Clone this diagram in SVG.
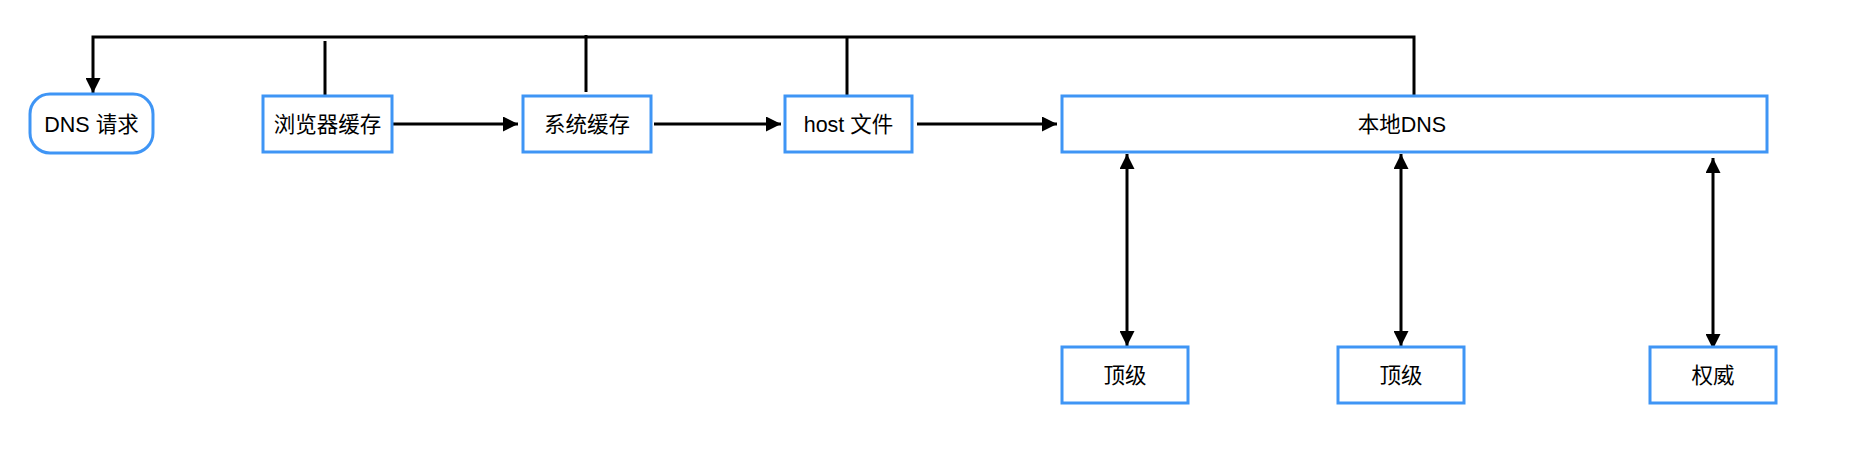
<svg xmlns="http://www.w3.org/2000/svg" width="1872" height="464" viewBox="0 0 1872 464">
<style>
.box{fill:#ffffff;stroke:#3f95f5;stroke-width:3}
.t{font-family:"Liberation Sans","Noto Sans CJK SC",sans-serif;font-size:21.5px;fill:#000000;text-anchor:middle}
.ln{fill:none;stroke:#000000;stroke-width:3}
</style>
<defs>
<marker id="ah" markerUnits="userSpaceOnUse" markerWidth="15" markerHeight="15" viewBox="0 0 15 15" refX="15" refY="7.5" orient="auto-start-reverse">
<path d="M0,0 L15,7.5 L0,15 z" fill="#000000"/>
</marker>
</defs>
<rect width="1872" height="464" fill="#ffffff"/>
<g id="connectors">
<path class="ln" d="M1414,96 V37 H93 V93" marker-end="url(#ah)"/>
<path class="ln" d="M325,41 V96"/>
<path class="ln" d="M586,35 V92"/>
<path class="ln" d="M847,37 V96"/>
<path class="ln" d="M392,124 H518" marker-end="url(#ah)"/>
<path class="ln" d="M654,124 H781" marker-end="url(#ah)"/>
<path class="ln" d="M917,124 H1057" marker-end="url(#ah)"/>
<path class="ln" d="M1127,154 V346" marker-start="url(#ah)" marker-end="url(#ah)"/>
<path class="ln" d="M1401,154 V346" marker-start="url(#ah)" marker-end="url(#ah)"/>
<path class="ln" d="M1713,158 V349" marker-start="url(#ah)" marker-end="url(#ah)"/>
</g>
<g id="dns-request">
<rect class="box" x="30" y="94" width="123" height="59" rx="20" ry="20"/>
<text class="t" x="91.5" y="132">DNS 请求</text>
</g>
<g id="browser-cache">
<rect class="box" x="263" y="96" width="129" height="56"/>
<text class="t" x="327.5" y="132">浏览器缓存</text>
</g>
<g id="system-cache">
<rect class="box" x="523" y="96" width="128" height="56"/>
<text class="t" x="587" y="132">系统缓存</text>
</g>
<g id="host-file">
<rect class="box" x="785" y="96" width="127" height="56"/>
<text class="t" x="848.5" y="132">host 文件</text>
</g>
<g id="local-dns">
<rect class="box" x="1062" y="96" width="705" height="56"/>
<text class="t" x="1402" y="132">本地DNS</text>
</g>
<g id="top-level-1">
<rect class="box" x="1062" y="347" width="126" height="56"/>
<text class="t" x="1125" y="383">顶级</text>
</g>
<g id="top-level-2">
<rect class="box" x="1338" y="347" width="126" height="56"/>
<text class="t" x="1401" y="383">顶级</text>
</g>
<g id="authoritative">
<rect class="box" x="1650" y="347" width="126" height="56"/>
<text class="t" x="1713" y="383">权威</text>
</g>
</svg>
